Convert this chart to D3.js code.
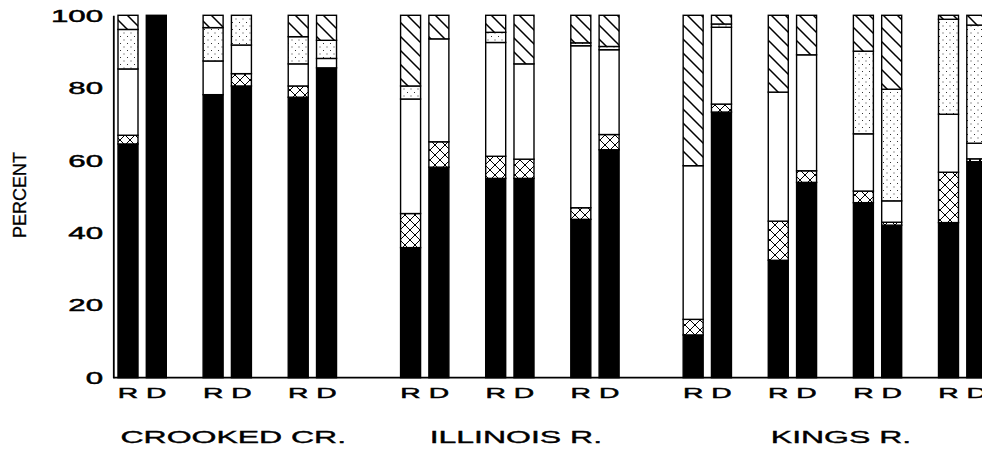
<!DOCTYPE html>
<html><head><meta charset="utf-8">
<script src="https://cdn.jsdelivr.net/npm/d3@7"></script>
<style>body{margin:0;background:#fff} svg{display:block;background:#fff}</style>
</head><body><svg id="c" width="982" height="451"></svg>
<script>
// ---------- data ----------
const rivers = ["CROOKED CR.", "ILLINOIS R.", "KINGS R."];
const sitesPerRiver = [3, 3, 4];
const samples = ["R", "D"];
const yTicks = [0, 20, 40, 60, 80, 100];
const segmentKeys = ["black", "crossHatch", "white", "dotted", "diagonal"];
// one value per bar, ordered river -> site -> sample (R, D)
const black      = [64.5,100, 78.1,80.5, 77.4,85.5, 35.9,58.1, 55.0,55.0, 43.7,62.9, 11.8,73.3, 32.4,53.9, 48.3,42.1, 42.8,59.6];
const crossHatch = [2.4,0,    0,3.4,     3.1,0,     9.4,7.0,   6.1,5.3,   3.2,4.2,   4.3,2.2,   10.8,3.2,  3.2,0.8,   13.9,0.8];
const white      = [18.3,0,   9.3,7.9,   6.1,2.6,   31.6,28.4, 31.4,26.3, 44.7,23.4, 42.4,21.2, 35.6,32.0, 15.8,5.9,  16.0,4.3];
const dotted     = [10.9,0,   9.2,8.2,   7.5,5.0,   3.6,0,     2.8,0,     0.8,0.9,   0,0.9,     0,0,       22.8,30.8, 26.2,32.6];
const diagonal   = [3.9,0,    3.4,0,     5.9,6.9,   19.5,6.5,  4.7,13.4,  7.6,8.6,   41.5,2.4,  21.2,10.9, 9.9,20.4,  1.1,2.7];

// ---------- build table ----------
const seriesVals = {black, crossHatch, white, dotted, diagonal};
const groupGap = 0.32;
const rows = [];
let site = 0, bi = 0;
rivers.forEach((rv, r) => {
  for (let s = 0; s < sitesPerRiver[r]; s++) {
    samples.forEach(sm => {
      const row = {river: r, slot: site + r * groupGap, sample: sm};
      segmentKeys.forEach(k => row[k] = seriesVals[k][bi]);
      rows.push(row); bi++;
    });
    site++;
  }
});

const W = 982, H = 451;
const svg = d3.select("#c");
const FONT = "'Liberation Sans', Arial, Helvetica, sans-serif";

const x = d3.scaleLinear().domain([0, 9.64]).range([118, 938.5]);
const inner = d3.scaleBand().domain(samples).range([0, 48.3]).paddingInner(0.2933);
const y = d3.scaleLinear().domain([0, 100]).range([377.7, 15.3]);
const axisX = 113.3;

// ---------- patterns ----------
const defs = svg.append("defs");
const pc = defs.append("pattern").attr("id", "pCross").attr("patternUnits", "userSpaceOnUse")
  .attr("width", 10).attr("height", 10);
pc.append("rect").attr("width", 10).attr("height", 10).attr("fill", "#fff");
pc.append("path").attr("d", "M0,0L10,10M10,0L0,10").attr("stroke", "#000").attr("stroke-width", 1);

const pd = defs.append("pattern").attr("id", "pDiag").attr("patternUnits", "userSpaceOnUse")
  .attr("width", 14).attr("height", 14);
pd.append("rect").attr("width", 14).attr("height", 14).attr("fill", "#fff");
pd.append("path").attr("d", "M-1,-1L15,15M-8,6L1,15M6,-8L15,1").attr("stroke", "#000").attr("stroke-width", 1.5);

const pt = defs.append("pattern").attr("id", "pDot").attr("patternUnits", "userSpaceOnUse")
  .attr("width", 7).attr("height", 7);
pt.append("rect").attr("width", 7).attr("height", 7).attr("fill", "#fff");
pt.append("rect").attr("x", 1).attr("y", 1).attr("width", 1).attr("height", 1).attr("fill", "#333");
pt.append("rect").attr("x", 4.5).attr("y", 4.5).attr("width", 1).attr("height", 1).attr("fill", "#333");

const fills = {black: "#000", crossHatch: "url(#pCross)", white: "#fff", dotted: "url(#pDot)", diagonal: "url(#pDiag)"};

// ---------- bars ----------
const stack = d3.stack().keys(segmentKeys)(rows);
const layers = svg.append("g").selectAll("g").data(stack).join("g").attr("fill", d => fills[d.key]);
layers.selectAll("rect").data(d => d.filter(p => p[1] - p[0] > 0)).join("rect")
  .attr("x", d => x(d.data.slot) + inner(d.data.sample))
  .attr("width", inner.bandwidth())
  .attr("y", d => y(d[1]))
  .attr("height", d => y(d[0]) - y(d[1]))
  .attr("stroke", "#000").attr("stroke-width", 1.4);

// ---------- axes ----------
const yAxis = svg.append("g").attr("transform", `translate(${axisX},0)`)
  .call(d3.axisLeft(y).tickValues(yTicks).tickSize(0).tickSizeOuter(0).tickFormat(d3.format("d")));
yAxis.select(".domain").attr("stroke", "#000").attr("stroke-width", 1.8);
yAxis.selectAll(".tick text")
  .attr("x", null).attr("dy", "0.36em")
  .attr("transform", "translate(-10.3,0) scale(1.95,1)")
  .attr("font-family", FONT).attr("font-size", 16).attr("fill", "#000")
  .attr("stroke", "#000").attr("stroke-width", 0.45);

svg.append("line").attr("x1", axisX).attr("x2", W).attr("y1", y(0)).attr("y2", y(0))
  .attr("stroke", "#000").attr("stroke-width", 1.8);

// R / D labels
svg.append("g").selectAll("text").data(rows).join("text")
  .attr("transform", d => `translate(${x(d.slot) + inner(d.sample) + inner.bandwidth() / 2},398.3) scale(1.95,1)`)
  .attr("text-anchor", "middle").attr("font-family", FONT).attr("font-size", 14.5).attr("fill", "#000")
  .attr("stroke", "#000").attr("stroke-width", 0.45)
  .text(d => d.sample);

// river labels
svg.append("g").selectAll("text").data(rivers).join("text")
  .attr("transform", (d, r) => {
    const rs = rows.filter(p => p.river === r);
    const x0 = x(d3.min(rs, p => p.slot)), x1 = x(d3.max(rs, p => p.slot)) + 48.3;
    return `translate(${(x0 + x1) / 2 + 6},443.3) scale(2,1)`;
  })
  .attr("text-anchor", "middle").attr("font-family", FONT).attr("font-size", 16).attr("fill", "#000")
  .attr("stroke", "#000").attr("stroke-width", 0.35)
  .text(d => d);

// y title
svg.append("text").attr("transform", "translate(25.5,195) rotate(-90)")
  .attr("text-anchor", "middle").attr("font-family", FONT).attr("font-size", 18).attr("fill", "#000")
  .attr("stroke", "#000").attr("stroke-width", 0.3)
  .text("PERCENT");
</script></body></html>
